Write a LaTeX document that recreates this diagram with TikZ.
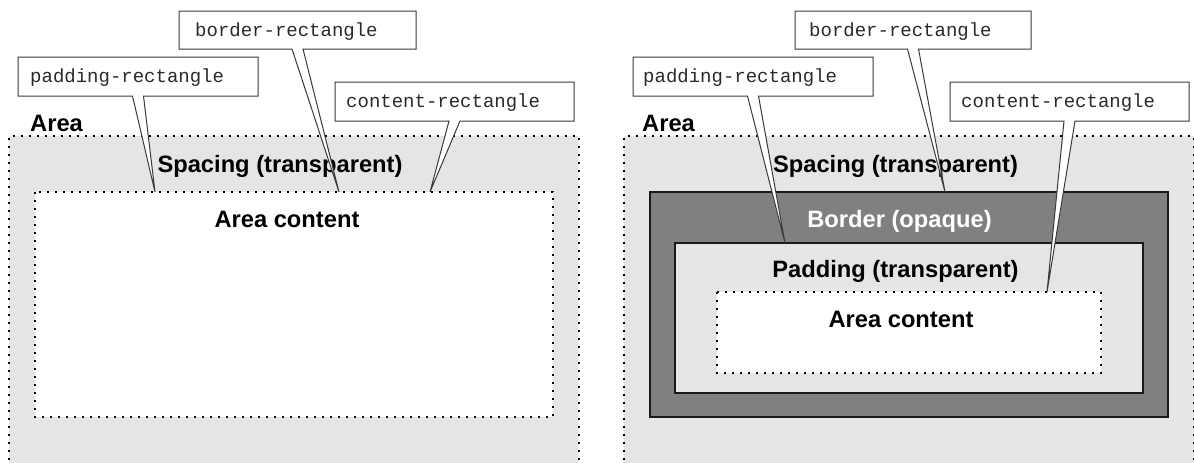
\documentclass[tikz,border=0pt]{standalone}
\usepackage{fontspec}
\newfontfamily\labelfont{Liberation Sans}[BoldFont={Liberation Sans Bold}]
\newfontfamily\codefont{Liberation Mono}
\definecolor{areagray}{HTML}{E5E5E5}
\definecolor{bordergray}{HTML}{808080}
\definecolor{calloutline}{HTML}{3A3A3A}
\definecolor{codecolor}{HTML}{2A2A2A}
\begin{document}
\begin{tikzpicture}[x=1pt,y=-1pt,
  dotline/.style={line width=2pt,dash pattern=on 2pt off 6pt,draw=black},
  solidline/.style={line width=1.8pt,draw=black!90},
  boxnode/.style={rectangle,inner sep=0pt,outer sep=0pt,anchor=north west},
  areatext/.style={font=\labelfont\bfseries\fontsize{23.7}{28}\selectfont,inner sep=0pt,anchor=base},
  areaname/.style={font=\labelfont\bfseries\fontsize{23.7}{28}\selectfont,inner sep=0pt,anchor=base west},
  codetext/.style={font=\codefont\fontsize{19}{22}\selectfont,text=codecolor,inner sep=0pt,anchor=base west},
  callshape/.style={fill=white,draw=calloutline,line width=1pt,line join=miter}]

\clip (0,0) rectangle (1194,463);
\fill[white] (0,0) rectangle (1194,463);

% ---------- left panel: area with spacing and content ----------
\node[boxnode,fill=areagray,minimum width=570pt,minimum height=340pt] (areaL) at (9,136) {};
\draw[dotline] (areaL.south west) -- (areaL.north west) -- (areaL.north east) -- (areaL.south east);
\node[boxnode,fill=white,minimum width=518pt,minimum height=225pt] (contentL) at (35,192) {};
\draw[dotline] (contentL.north west) rectangle (contentL.south east);
\node[areaname] (areaLabelL) at (30,131) {Area};
\node[areatext] (spacingL) at (280,172) {Spacing (transparent)};
\node[areatext] (contentTextL) at (287,227) {Area content};

% ---------- right panel: area with spacing, border, padding, content ----------
\node[boxnode,fill=areagray,minimum width=570pt,minimum height=340pt] (areaR) at (624,136) {};
\draw[dotline] (areaR.south west) -- (areaR.north west) -- (areaR.north east) -- (areaR.south east);
\node[boxnode,fill=bordergray,minimum width=518pt,minimum height=225pt] (borderR) at (650,192) {};
\draw[solidline] (borderR.north west) rectangle (borderR.south east);
\node[boxnode,fill=areagray,minimum width=468pt,minimum height=150pt] (paddingR) at (675,243) {};
\draw[solidline] (paddingR.north west) rectangle (paddingR.south east);
\node[boxnode,fill=white,minimum width=384pt,minimum height=81pt] (contentR) at (717,292) {};
\draw[dotline] (contentR.north west) rectangle (contentR.south east);
\node[areaname] (areaLabelR) at (642,131) {Area};
\node[areatext] (spacingR) at (895.5,172) {Spacing (transparent)};
\node[areatext,text=white] (borderTextR) at (899.5,227) {Border (opaque)};
\node[areatext] (paddingTextR) at (895.5,277) {Padding (transparent)};
\node[areatext] (contentTextR) at (901,327) {Area content};

% ---------- callout frames ----------
\node[boxnode,minimum width=240pt,minimum height=39pt] (padBoxL) at (18,57) {};
\node[boxnode,minimum width=237pt,minimum height=38pt] (borBoxL) at (179,11) {};
\node[boxnode,minimum width=239pt,minimum height=39pt] (conBoxL) at (335,82) {};
\node[boxnode,minimum width=240pt,minimum height=39pt] (padBoxR) at (633,57) {};
\node[boxnode,minimum width=236pt,minimum height=38pt] (borBoxR) at (795,11) {};
\node[boxnode,minimum width=239pt,minimum height=39pt] (conBoxR) at (950,82) {};

\coordinate (padTipL) at (155,192);
\coordinate (borTipL) at (339,192);
\coordinate (conTipL) at (430,192);
\coordinate (padTipR) at (785,243);
\coordinate (borTipR) at (945,192);
\coordinate (conTipR) at (1047,292);

\newcommand\callframe[2]{%
  \draw[callshape] (#1.south west) -- (#1.north west) -- (#1.north east)
    -- (#1.south east) -- ([xshift=5.5pt]#1.south) -- (#2)
    -- ([xshift=-5.5pt]#1.south) -- cycle;}
\callframe{padBoxL}{padTipL}
\callframe{borBoxL}{borTipL}
\callframe{conBoxL}{conTipL}
\callframe{padBoxR}{padTipR}
\callframe{borBoxR}{borTipR}
\callframe{conBoxR}{conTipR}

% ---------- callout texts ----------
\node[codetext] (padTextL) at ([shift={(12,25.5)}]padBoxL.north west) {padding-rectangle};
\node[codetext] (borTextL) at ([shift={(16,25.5)}]borBoxL.north west) {border-rectangle};
\node[codetext] (conTextL) at ([shift={(11,25.5)}]conBoxL.north west) {content-rectangle};
\node[codetext] (padTextR) at ([shift={(10,25.5)}]padBoxR.north west) {padding-rectangle};
\node[codetext] (borTextR) at ([shift={(14,25.5)}]borBoxR.north west) {border-rectangle};
\node[codetext] (conTextR) at ([shift={(11,25.5)}]conBoxR.north west) {content-rectangle};
\end{tikzpicture}
\end{document}
